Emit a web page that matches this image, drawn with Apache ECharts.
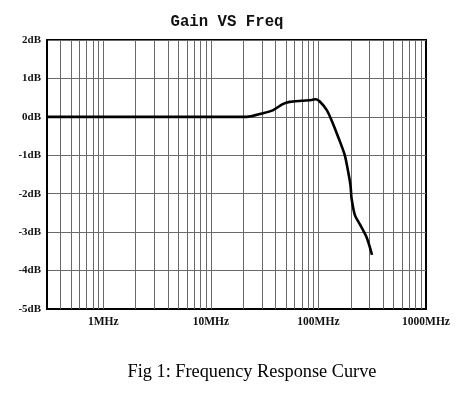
<!DOCTYPE html>
<html>
<head>
<meta charset="utf-8">
<script src="https://cdn.jsdelivr.net/npm/echarts@6/dist/echarts.min.js"></script>
<style>
html,body{margin:0;padding:0;background:#fff;}
#chart{width:460px;height:394px;}
</style>
</head>
<body>
<div id="chart"></div>
<script>
// ---- data ----
const freqMHz = [0.3, 21.5, 30, 37.6, 46.6, 54, 70, 86.8, 94.6, 103, 120, 133, 152, 176, 192, 197, 200, 203, 218, 243, 282, 315];
const gainDb  = [0, 0, 0.09, 0.17, 0.33, 0.39, 0.42, 0.44, 0.46, 0.40, 0.17, -0.1, -0.51, -1.0, -1.53, -1.71, -1.87, -2.11, -2.55, -2.80, -3.15, -3.59];
const xTickValues = [1, 10, 100, 1000];
const xTickLabels = ['1MHz', '10MHz', '100MHz', '1000MHz'];
const yTickUnit = 'dB';
const gridMultipliers = [1, 2, 3, 4, 5, 6, 7, 8, 9];
const gridDecades = [0.1, 1, 10, 100];
const titleText = 'Gain VS Freq';
const captionText = 'Fig 1: Frequency Response Curve';

const xMin = 0.3, xMax = 1000;
const points = freqMHz.map((f, i) => [f, gainDb[i]]);
const gridFreqs = [];
gridDecades.forEach(d => gridMultipliers.forEach(m => {
  const v = +(d * m).toPrecision(3);
  if (v > xMin && v < xMax) gridFreqs.push(v);
}));

function xLabel(v) {
  let best = 0, bestD = Infinity;
  xTickValues.forEach((t, i) => {
    const d = Math.abs(Math.log10(v) - Math.log10(t));
    if (d < bestD) { bestD = d; best = i; }
  });
  return bestD < 0.05 ? xTickLabels[best] : '';
}

const chart = echarts.init(document.getElementById('chart'), null, {renderer: 'canvas'});
chart.setOption({
  animation: false,
  backgroundColor: '#ffffff',
  grid: {
    left: 47, right: 34, top: 40, bottom: 85,
    show: true, borderColor: '#000', borderWidth: 2, backgroundColor: 'transparent'
  },
  xAxis: {
    type: 'log', logBase: 10, min: xMin, max: xMax,
    axisLine: {show: true, onZero: false, lineStyle: {color: '#000', width: 2}},
    axisTick: {show: false},
    splitLine: {show: false},
    minorTick: {show: false},
    axisLabel: {
      customValues: xTickValues,
      formatter: xLabel,
      color: '#111', fontFamily: 'Liberation Serif', fontWeight: 'bold', fontSize: 11.5,
      margin: 7, showMinLabel: true, showMaxLabel: true
    }
  },
  yAxis: {
    type: 'value', min: -5, max: 2, interval: 1,
    axisLine: {show: true, onZero: false, lineStyle: {color: '#000', width: 2}},
    axisTick: {show: false},
    splitLine: {show: true, lineStyle: {color: '#6a6a6a', width: 1}},
    axisLabel: {
      formatter: v => v + yTickUnit,
      color: '#111', fontFamily: 'Liberation Serif', fontWeight: 'bold', fontSize: 11,
      margin: 6
    }
  },
  series: [{
    type: 'line',
    data: points,
    symbol: 'none',
    smooth: 0.25,
    lineStyle: {color: '#000', width: 2.6},
    z: 5,
    markLine: {
      silent: true,
      symbol: ['none', 'none'],
      label: {show: false},
      lineStyle: {color: '#6a6a6a', width: 1, type: 'solid'},
      emphasis: {disabled: true},
      data: gridFreqs.map(f => ({xAxis: f}))
    }
  }],
  graphic: [
    {type: 'text', x: 227, y: 22, style: {
      text: titleText, fill: '#111', font: 'bold 15.7px "Liberation Mono"',
      textAlign: 'center', textVerticalAlign: 'middle'}},
    {type: 'text', x: 252, y: 372, style: {
      text: captionText, fill: '#000', font: '18.3px "Liberation Serif"',
      textAlign: 'center', textVerticalAlign: 'middle'}}
  ]
});
</script>
</body>
</html>
